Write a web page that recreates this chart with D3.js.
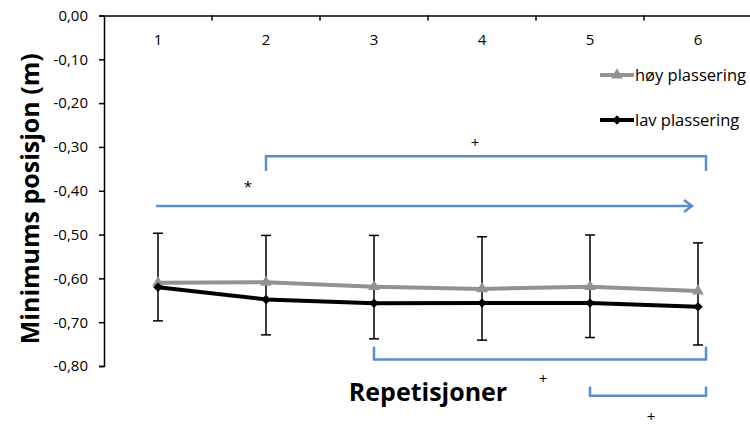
<!DOCTYPE html>
<html>
<head>
<meta charset="utf-8">
<script src="https://cdn.jsdelivr.net/npm/d3@7"></script>
<style>
body { margin: 0; background: #fff; }
text { font-family: "Open Sans", sans-serif; fill: #000; }
</style>
</head>
<body>
<svg id="chart"></svg>
<script>
// repetitions
const categories = ["1", "2", "3", "4", "5", "6"];
// mean minimum position (m)
const hoyValues = [-0.610, -0.609, -0.619, -0.624, -0.619, -0.629];
const lavValues = [-0.620, -0.648, -0.657, -0.656, -0.656, -0.665];
// error bar ends: upper from høy, lower from lav
const hoyUpper = [-0.497, -0.502, -0.502, -0.505, -0.501, -0.519];
const lavLower = [-0.697, -0.729, -0.738, -0.741, -0.735, -0.752];
const yTicks = [0, -0.1, -0.2, -0.3, -0.4, -0.5, -0.6, -0.7, -0.8];
const seriesNames = ["høy plassering", "lav plassering"];

var width = 750, height = 425;
var svg = d3.select("#chart").attr("width", width).attr("height", height);

const margin = {top: 15.5, left: 104, bottom: 59, right: -2};

let x = d3.scaleBand()
  .domain(categories)
  .range([margin.left, width - margin.right]);

let y = d3.scaleLinear()
  .domain([0, -0.8])
  .range([margin.top, height - margin.bottom]);

const locale = d3.formatLocale({decimal: ",", thousands: ".", grouping: [3], currency: ["", ""], minus: "-"});
const fmt = locale.format(".2f");

// y axis
let yAxis = d3.axisLeft(y).tickValues(yTicks).tickSize(5).tickPadding(11).tickFormat(fmt);
let gy = svg.append("g")
  .attr("transform", `translate(${margin.left},0)`)
  .call(yAxis);
gy.select(".domain").attr("stroke", "#000").attr("stroke-width", 1.5);
gy.selectAll(".tick line").attr("stroke-width", 1.5);
gy.selectAll(".tick text").style("font-size", "15px");

// x axis along value 0, labels below
let xAxis = d3.axisBottom(x).tickSize(0).tickPadding(19);
let gx = svg.append("g")
  .attr("transform", `translate(0,${y(0)})`)
  .call(xAxis);
gx.select(".domain").attr("stroke", "#000").attr("stroke-width", 1.5);
gx.selectAll(".tick text").style("font-size", "15px");
gx.selectAll(".boundary")
  .data(categories.slice(1))
  .enter()
  .append("line")
  .attr("x1", d => x(d)).attr("x2", d => x(d))
  .attr("y1", 0).attr("y2", 5)
  .attr("stroke", "#000").attr("stroke-width", 1.5);

let cx = d => x(d) + x.bandwidth() / 2;

// error bars
let errs = categories.map((c, i) => ({c: c, top: hoyUpper[i], bottom: lavLower[i]}));
svg.selectAll("line.err")
  .data(errs).enter().append("line")
  .attr("class", "err")
  .attr("x1", d => cx(d.c)).attr("x2", d => cx(d.c))
  .attr("y1", d => y(d.top)).attr("y2", d => y(d.bottom))
  .attr("stroke", "#000").attr("stroke-width", 1.5);
["top", "bottom"].forEach(k => {
  svg.selectAll("line.cap-" + k)
    .data(errs).enter().append("line")
    .attr("class", "cap-" + k)
    .attr("x1", d => cx(d.c) - 5).attr("x2", d => cx(d.c) + 5)
    .attr("y1", d => y(d[k])).attr("y2", d => y(d[k]))
    .attr("stroke", "#000").attr("stroke-width", 1.5);
});

let line = d3.line().x(d => cx(d.c)).y(d => y(d.v));
let hoy = categories.map((c, i) => ({c: c, v: hoyValues[i]}));
let lav = categories.map((c, i) => ({c: c, v: lavValues[i]}));

const grey = "#929292";
svg.append("path").datum(hoy).attr("d", line)
  .attr("fill", "none").attr("stroke", grey).attr("stroke-width", 4);
svg.selectAll("path.tri").data(hoy).enter().append("path")
  .attr("class", "tri")
  .attr("transform", d => `translate(${cx(d.c)},${y(d.v)})`)
  .attr("d", d3.symbol(d3.symbolTriangle, 60))
  .attr("fill", grey);

svg.append("path").datum(lav).attr("d", line)
  .attr("fill", "none").attr("stroke", "#000").attr("stroke-width", 4);
svg.selectAll("path.dia").data(lav).enter().append("path")
  .attr("class", "dia")
  .attr("transform", d => `translate(${cx(d.c)},${y(d.v)}) rotate(45)`)
  .attr("d", d3.symbol(d3.symbolSquare, 45))
  .attr("fill", "#000");

// legend
let legend = svg.append("g").attr("transform", "translate(600,0)");
[{name: seriesNames[0], col: grey, sym: d3.symbolTriangle, ly: 75, rot: 0, size: 60},
 {name: seriesNames[1], col: "#000", sym: d3.symbolSquare, ly: 120, rot: 45, size: 45}].forEach(s => {
  legend.append("line").attr("x1", 0).attr("x2", 34).attr("y1", s.ly).attr("y2", s.ly)
    .attr("stroke", s.col).attr("stroke-width", 4);
  legend.append("path")
    .attr("transform", `translate(17,${s.ly}) rotate(${s.rot})`)
    .attr("d", d3.symbol(s.sym, s.size)).attr("fill", s.col);
  legend.append("text").attr("x", 35).attr("y", s.ly).attr("dy", "0.35em")
    .style("font-size", "16.5px").text(s.name);
});

// axis titles
svg.append("text")
  .attr("transform", `translate(39,${(y(0) + y(-0.8)) / 2 + 8}) rotate(-90)`)
  .style("text-anchor", "middle").style("font-size", "25px").style("font-weight", "bold")
  .text("Minimums posisjon (m)");
svg.append("text")
  .attr("x", 428).attr("y", 401)
  .style("text-anchor", "middle").style("font-size", "25px").style("font-weight", "bold")
  .text("Repetisjoner");

// significance annotations
const blue = "#5b8ec7";
let ann = svg.append("g").attr("fill", "none").attr("stroke", blue).attr("stroke-width", 2.5);

// arrow from 1 to 6
ann.append("line").attr("x1", cx("1") - 2).attr("x2", cx("6") - 6)
  .attr("y1", y(-0.435)).attr("y2", y(-0.435));
ann.append("path")
  .attr("d", `M${cx("6") - 14},${y(-0.435) - 6} L${cx("6") - 6},${y(-0.435)} L${cx("6") - 14},${y(-0.435) + 6}`);

function bracket(c1, c2, vLeg, vBar) {
  ann.append("path")
    .attr("d", `M${cx(c1)},${y(vLeg)} L${cx(c1)},${y(vBar)} L${cx(c2) + 8},${y(vBar)} L${cx(c2) + 8},${y(vLeg)}`);
}
bracket("2", "6", -0.355, -0.321);
bracket("3", "6", -0.756, -0.785);
bracket("5", "6", -0.847, -0.868);

let marks = [
  {t: "*", c: "2", dx: -18, v: -0.39},
  {t: "+", c: "4", dx: -7, v: -0.29},
  {t: "+", c: "5", dx: -47, v: -0.83},
  {t: "+", c: "6", dx: -47, v: -0.915}
];
svg.selectAll("text.mark").data(marks).enter().append("text")
  .attr("class", "mark")
  .attr("x", d => cx(d.c) + d.dx).attr("y", d => y(d.v)).attr("dy", "0.35em")
  .style("text-anchor", "middle").style("font-size", "15px")
  .text(d => d.t);
</script>
</body>
</html>
